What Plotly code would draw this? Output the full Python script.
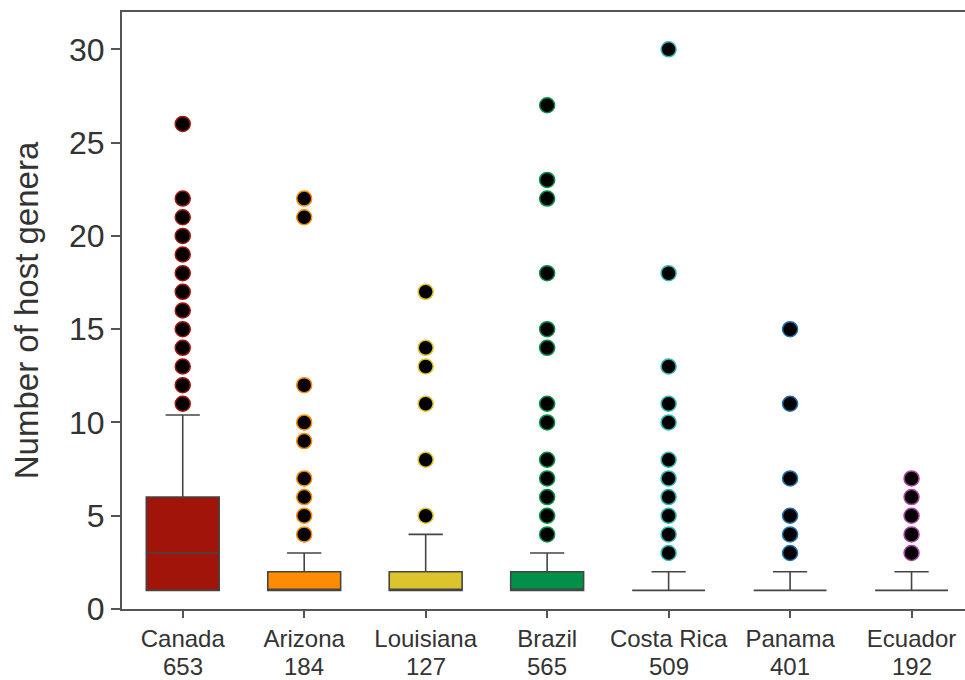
import plotly.graph_objects as go

# Sampling sites and number of parasitoid species sampled at each
sites = ["Canada", "Arizona", "Louisiana", "Brazil", "Costa Rica", "Panama", "Ecuador"]
counts = [653, 184, 127, 565, 509, 401, 192]

# Box-plot summaries (number of host genera per parasitoid species)
q1 = [1, 1, 1, 1, 1, 1, 1]
medians = [3, 1, 1, 1, 1, 1, 1]
q3 = [6, 2, 2, 2, 1, 1, 1]
lower_whisker = [1, 1, 1, 1, 1, 1, 1]
upper_whisker = [10.4, 3, 4, 3, 2, 2, 2]

# Outlying values drawn as individual points
outliers = [
    [26, 22, 21, 20, 19, 18, 17, 16, 15, 14, 13, 12, 11],
    [22, 21, 12, 10, 9, 7, 6, 5, 4],
    [17, 14, 13, 11, 8, 5],
    [27, 23, 22, 18, 15, 14, 11, 10, 8, 7, 6, 5, 4],
    [30, 18, 13, 11, 10, 8, 7, 6, 5, 4, 3],
    [15, 11, 7, 5, 4, 3],
    [7, 6, 5, 4, 3],
]

site_colors = ["#a0140a", "#ff8c00", "#dcc42c", "#009048", "#2fb9b9", "#1f6fae", "#b23fa4"]

y_ticks = [0, 5, 10, 15, 20, 25, 30]

fig = go.Figure()

for i, site in enumerate(sites):
    fig.add_trace(go.Box(
        x=[site],
        q1=[q1[i]],
        median=[medians[i]],
        q3=[q3[i]],
        lowerfence=[lower_whisker[i]],
        upperfence=[upper_whisker[i]],
        fillcolor=site_colors[i],
        line=dict(color="#454545", width=1.6),
        width=0.6,
        whiskerwidth=0.47,
        boxpoints=False,
        hoverinfo="skip",
        showlegend=False,
    ))

for i, site in enumerate(sites):
    fig.add_trace(go.Scatter(
        x=[site] * len(outliers[i]),
        y=outliers[i],
        mode="markers",
        marker=dict(size=15, color="black", line=dict(color=site_colors[i], width=1.5)),
        hoverinfo="skip",
        showlegend=False,
    ))

# Sample sizes written as a second row under each site name
for site, n in zip(sites, counts):
    fig.add_annotation(
        x=site, xref="x",
        y=0, yref="paper",
        yanchor="top",
        yshift=-42,
        text=str(n),
        showarrow=False,
        font=dict(size=24, color="#333333"),
    )

fig.update_layout(
    width=965,
    height=680,
    margin=dict(l=122, r=0, t=12, b=71),
    paper_bgcolor="white",
    plot_bgcolor="white",
    font=dict(family="Liberation Sans, Arial, sans-serif", color="#333333"),
    showlegend=False,
    boxmode="overlay",
)

fig.update_xaxes(
    type="category",
    categoryorder="array",
    categoryarray=sites,
    range=[-0.5, 6.44],
    automargin=False,
    showline=True,
    linecolor="#555555",
    linewidth=2,
    mirror=True,
    ticks="outside",
    ticklen=7,
    tickwidth=1.5,
    tickcolor="#555555",
    tickfont=dict(size=24, color="#333333"),
    showgrid=False,
    zeroline=False,
)

fig.update_yaxes(
    range=[0, 32],
    tickvals=y_ticks,
    automargin=False,
    showline=True,
    linecolor="#555555",
    linewidth=2,
    ticks="outside",
    ticklen=9,
    tickwidth=2,
    tickcolor="#555555",
    tickfont=dict(size=32, color="#333333"),
    showgrid=False,
    zeroline=False,
    title=dict(text="Number of host genera", font=dict(size=33, color="#333333"), standoff=20),
)

fig.write_html("out.html")
